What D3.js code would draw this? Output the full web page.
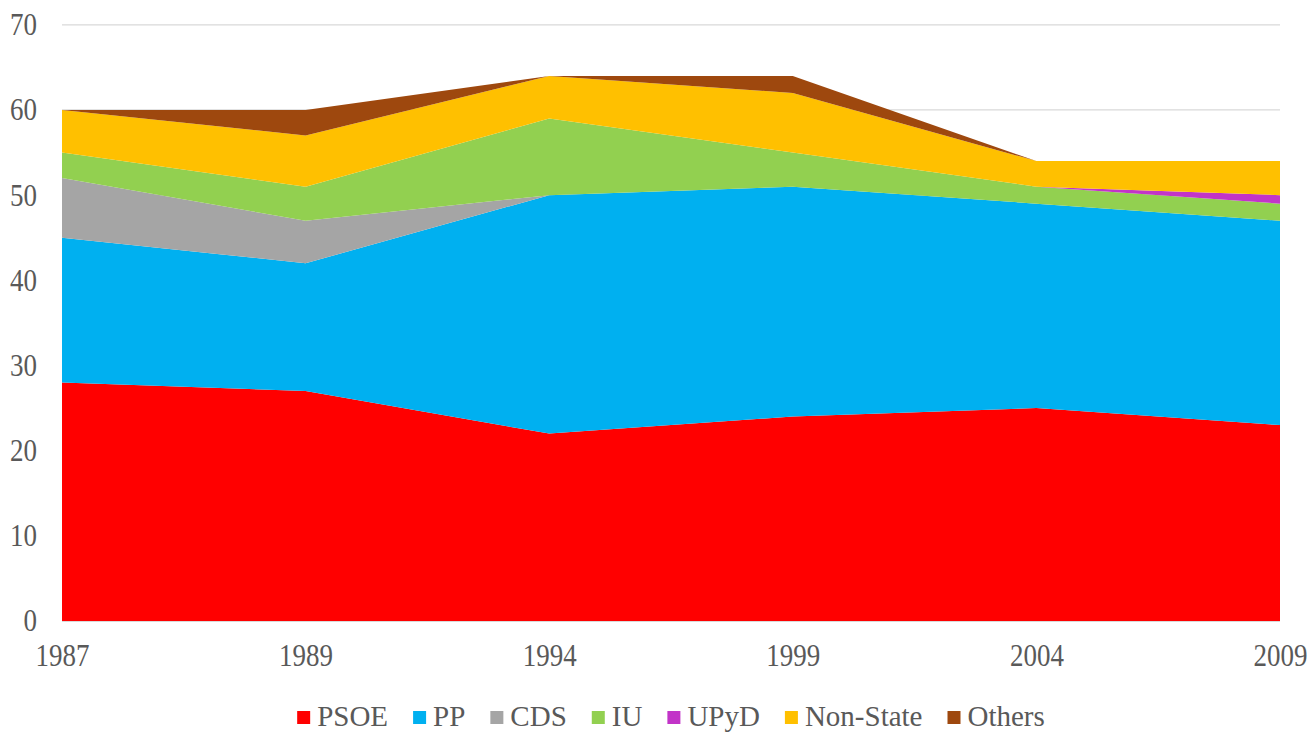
<!DOCTYPE html>
<html>
<head>
<meta charset="utf-8">
<script src="https://cdn.jsdelivr.net/npm/d3@7"></script>
<style>
  html, body { margin: 0; padding: 0; background: #ffffff; }
  svg { display: block; }
</style>
</head>
<body>
<svg id="chart" width="1310" height="735"></svg>
<script>
// Seats won by party in European Parliament elections in Spain
const years = ["1987", "1989", "1994", "1999", "2004", "2009"];
const parties = ["PSOE", "PP", "CDS", "IU", "UPyD", "Non-State", "Others"];
const psoe     = [28, 27, 22, 24, 25, 23];
const pp       = [17, 15, 28, 27, 24, 24];
const cds      = [7, 5, 0, 0, 0, 0];
const iu       = [3, 4, 9, 4, 2, 2];
const upyd     = [0, 0, 0, 0, 0, 1];
const nonState = [5, 6, 5, 7, 3, 4];
const others   = [0, 3, 0, 2, 0, 0];
const yTicks   = [0, 10, 20, 30, 40, 50, 60, 70];

const seriesValues = [psoe, pp, cds, iu, upyd, nonState, others];
const colors = ["#ff0000", "#00b0f0", "#a5a5a5", "#92d050", "#c234c8", "#ffc000", "#9e480e"];
const FONT = "'Liberation Serif', 'Times New Roman', 'DejaVu Serif', serif";

const rows = years.map((yr, i) => {
  const r = { year: yr };
  parties.forEach((p, k) => { r[p] = seriesValues[k][i]; });
  return r;
});

const svg = d3.select("#chart");
const plotLeft = 62, plotRight = 1280, plotTop = 24.8, plotBottom = 621;

const x = d3.scalePoint().domain(years).range([plotLeft, plotRight]).padding(0);
const y = d3.scaleLinear().domain([0, 70]).range([plotBottom, plotTop]);

// horizontal gridlines
svg.append("g")
  .selectAll("line")
  .data(yTicks)
  .join("line")
  .attr("x1", plotLeft).attr("x2", plotRight)
  .attr("y1", d => y(d)).attr("y2", d => y(d))
  .attr("stroke", "#d9d9d9").attr("stroke-width", 1.2);

// stacked areas
const stack = d3.stack().keys(parties);
const layers = stack(rows);
const area = d3.area()
  .x(d => x(d.data.year))
  .y0(d => y(d[0]))
  .y1(d => y(d[1]));

svg.append("g")
  .selectAll("path")
  .data(layers)
  .join("path")
  .attr("d", area)
  .attr("fill", (d, i) => colors[i]);

// baseline
svg.append("line")
  .attr("x1", plotLeft).attr("x2", plotRight)
  .attr("y1", y(0) + 0.5).attr("y2", y(0) + 0.5)
  .attr("stroke", "#d9d9d9").attr("stroke-width", 1.2);

// y axis
const yAxis = svg.append("g")
  .attr("transform", `translate(${plotLeft},0)`)
  .call(d3.axisLeft(y).tickValues(yTicks).tickSize(0).tickPadding(25));
yAxis.select(".domain").remove();
yAxis.attr("font-family", null);
yAxis.selectAll("text")
  .style("font-family", FONT)
  .style("font-size", "27px")
  .style("fill", "#595959")
  .attr("transform", "scale(1,1.15)");

// x axis
const xAxis = svg.append("g")
  .attr("transform", `translate(0,${plotBottom})`)
  .call(d3.axisBottom(x).tickSize(0).tickPadding(20));
xAxis.select(".domain").remove();
xAxis.attr("font-family", null);
xAxis.selectAll("text")
  .style("font-family", FONT)
  .style("font-size", "27px")
  .style("fill", "#595959")
  .attr("transform", "scale(1,1.15)");

// legend
const legend = svg.append("g").attr("class", "legend");
const items = legend.selectAll("g")
  .data(parties)
  .join("g");
items.append("rect")
  .attr("width", 13).attr("height", 13)
  .attr("y", -5)
  .attr("fill", (d, i) => colors[i]);
items.append("text")
  .attr("x", 20)
  .attr("y", 0)
  .attr("dy", "0.33em")
  .style("font-family", FONT)
  .style("font-size", "29px")
  .style("fill", "#595959")
  .text(d => d);

const widths = [];
items.each(function () {
  widths.push(20 + this.querySelector("text").getComputedTextLength());
});
const gap = 25;
const total = d3.sum(widths) + gap * (widths.length - 1);
let cursor = 671 - total / 2;
items.each(function (d, i) {
  d3.select(this).attr("transform", `translate(${cursor},716)`);
  cursor += widths[i] + gap;
});
</script>
</body>
</html>
